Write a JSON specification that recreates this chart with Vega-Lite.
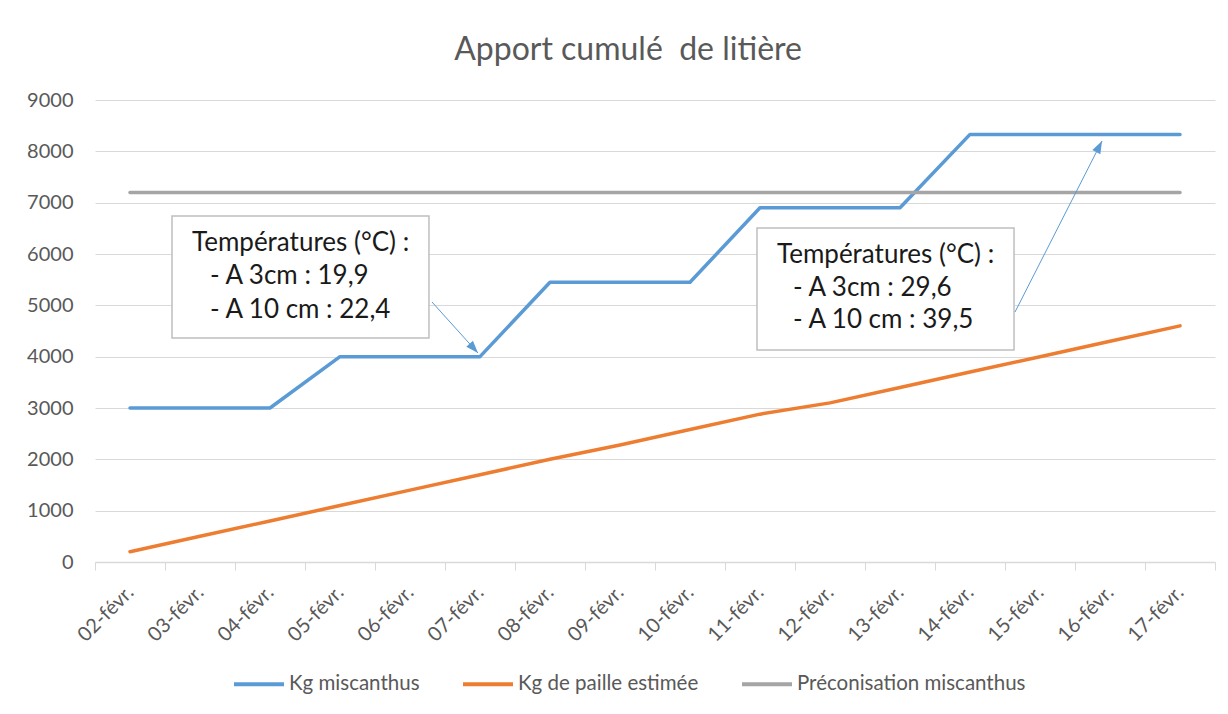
{
  "$schema": "https://vega.github.io/schema/vega-lite/v6.json",
  "autosize": "none",
  "width": 1120,
  "height": 462,
  "padding": {"left": 95, "top": 100, "right": 13, "bottom": 152},
  "background": "white",
  "title": {
    "text": "Apport cumulé \u00a0de litière",
    "anchor": "middle",
    "frame": "bounds",
    "fontSize": 32,
    "font": "Lato",
    "fontWeight": "normal",
    "color": "#595959",
    "offset": 23,
    "dx": 7
  },
  "config": {
    "font": "Lato",
    "view": {"stroke": null},
    "axis": {"labelFont": "Lato", "labelColor": "#595959", "labelFontSize": 20}
  },
  "datasets": {
    "series": [
      {"date": "02-févr.", "serie": "Kg miscanthus", "valeur": 3000},
      {"date": "03-févr.", "serie": "Kg miscanthus", "valeur": 3000},
      {"date": "04-févr.", "serie": "Kg miscanthus", "valeur": 3000},
      {"date": "05-févr.", "serie": "Kg miscanthus", "valeur": 4000},
      {"date": "06-févr.", "serie": "Kg miscanthus", "valeur": 4000},
      {"date": "07-févr.", "serie": "Kg miscanthus", "valeur": 4000},
      {"date": "08-févr.", "serie": "Kg miscanthus", "valeur": 5450},
      {"date": "09-févr.", "serie": "Kg miscanthus", "valeur": 5450},
      {"date": "10-févr.", "serie": "Kg miscanthus", "valeur": 5450},
      {"date": "11-févr.", "serie": "Kg miscanthus", "valeur": 6900},
      {"date": "12-févr.", "serie": "Kg miscanthus", "valeur": 6900},
      {"date": "13-févr.", "serie": "Kg miscanthus", "valeur": 6900},
      {"date": "14-févr.", "serie": "Kg miscanthus", "valeur": 8330},
      {"date": "15-févr.", "serie": "Kg miscanthus", "valeur": 8330},
      {"date": "16-févr.", "serie": "Kg miscanthus", "valeur": 8330},
      {"date": "17-févr.", "serie": "Kg miscanthus", "valeur": 8330},
      {"date": "02-févr.", "serie": "Kg de paille estimée", "valeur": 200},
      {"date": "03-févr.", "serie": "Kg de paille estimée", "valeur": 500},
      {"date": "04-févr.", "serie": "Kg de paille estimée", "valeur": 800},
      {"date": "05-févr.", "serie": "Kg de paille estimée", "valeur": 1100},
      {"date": "06-févr.", "serie": "Kg de paille estimée", "valeur": 1400},
      {"date": "07-févr.", "serie": "Kg de paille estimée", "valeur": 1700},
      {"date": "08-févr.", "serie": "Kg de paille estimée", "valeur": 2000},
      {"date": "09-févr.", "serie": "Kg de paille estimée", "valeur": 2280},
      {"date": "10-févr.", "serie": "Kg de paille estimée", "valeur": 2580},
      {"date": "11-févr.", "serie": "Kg de paille estimée", "valeur": 2880},
      {"date": "12-févr.", "serie": "Kg de paille estimée", "valeur": 3100},
      {"date": "13-févr.", "serie": "Kg de paille estimée", "valeur": 3400},
      {"date": "14-févr.", "serie": "Kg de paille estimée", "valeur": 3700},
      {"date": "15-févr.", "serie": "Kg de paille estimée", "valeur": 4000},
      {"date": "16-févr.", "serie": "Kg de paille estimée", "valeur": 4300},
      {"date": "17-févr.", "serie": "Kg de paille estimée", "valeur": 4600},
      {"date": "02-févr.", "serie": "Préconisation miscanthus", "valeur": 7200},
      {"date": "03-févr.", "serie": "Préconisation miscanthus", "valeur": 7200},
      {"date": "04-févr.", "serie": "Préconisation miscanthus", "valeur": 7200},
      {"date": "05-févr.", "serie": "Préconisation miscanthus", "valeur": 7200},
      {"date": "06-févr.", "serie": "Préconisation miscanthus", "valeur": 7200},
      {"date": "07-févr.", "serie": "Préconisation miscanthus", "valeur": 7200},
      {"date": "08-févr.", "serie": "Préconisation miscanthus", "valeur": 7200},
      {"date": "09-févr.", "serie": "Préconisation miscanthus", "valeur": 7200},
      {"date": "10-févr.", "serie": "Préconisation miscanthus", "valeur": 7200},
      {"date": "11-févr.", "serie": "Préconisation miscanthus", "valeur": 7200},
      {"date": "12-févr.", "serie": "Préconisation miscanthus", "valeur": 7200},
      {"date": "13-févr.", "serie": "Préconisation miscanthus", "valeur": 7200},
      {"date": "14-févr.", "serie": "Préconisation miscanthus", "valeur": 7200},
      {"date": "15-févr.", "serie": "Préconisation miscanthus", "valeur": 7200},
      {"date": "16-févr.", "serie": "Préconisation miscanthus", "valeur": 7200},
      {"date": "17-févr.", "serie": "Préconisation miscanthus", "valeur": 7200}
    ],
    "boites": [
      {"x": 2.6, "x2": 6.271, "y": 6740, "y2": 4364},
      {"x": 10.957, "x2": 14.629, "y": 6506, "y2": 4130}
    ],
    "textes": [
      {"x": 2.886, "y": 6214, "texte": "Températures (°C) :"},
      {"x": 3.143, "y": 5571, "texte": "- A 3cm : 19,9"},
      {"x": 3.143, "y": 4909, "texte": "- A 10 cm : 22,4"},
      {"x": 11.243, "y": 5980, "texte": "Températures (°C) :"},
      {"x": 11.471, "y": 5338, "texte": "- A 3cm : 29,6"},
      {"x": 11.471, "y": 4714, "texte": "- A 10 cm : 39,5"}
    ],
    "fleches": [
      {"id": 1, "x": 6.314, "y": 5065, "x2": 6.971, "y2": 4071},
      {"id": 2, "x": 14.643, "y": 4870, "x2": 15.886, "y2": 8201}
    ]
  },
  "resolve": {"scale": {"x": "independent"}},
  "layer": [
    {
      "data": {"name": "series"},
      "mark": {"type": "line", "strokeWidth": 3.5, "strokeCap": "round", "strokeJoin": "round"},
      "encoding": {
        "x": {
          "field": "date",
          "type": "nominal",
          "sort": null,
          "bandPosition": 0.5,
          "scale": {"type": "band", "paddingInner": 0, "paddingOuter": 0},
          "axis": {
            "title": null,
            "labelAngle": -45,
            "labelAlign": "right",
            "labelBaseline": "middle",
            "labelPadding": 19,
            "tickBand": "extent",
            "tickSize": 8,
            "tickColor": "#D9D9D9",
            "domainColor": "#D9D9D9",
            "domainWidth": 1.5,
            "grid": false
          }
        },
        "y": {
          "field": "valeur",
          "type": "quantitative",
          "scale": {"domain": [0, 9000], "nice": false},
          "axis": {
            "title": null,
            "format": "d",
            "values": [0, 1000, 2000, 3000, 4000, 5000, 6000, 7000, 8000, 9000],
            "domain": false,
            "ticks": false,
            "labelPadding": 22,
            "gridColor": "#D9D9D9",
            "gridWidth": 1.2
          }
        },
        "color": {
          "field": "serie",
          "type": "nominal",
          "scale": {
            "domain": ["Kg miscanthus", "Kg de paille estimée", "Préconisation miscanthus"],
            "range": ["#5B9BD5", "#ED7D31", "#A5A5A5"]
          },
          "legend": {
            "title": null,
            "orient": "none",
            "legendX": 137,
            "legendY": 557,
            "direction": "horizontal",
            "symbolType": "stroke",
            "symbolSize": 2500,
            "symbolStrokeWidth": 4,
            "labelFontSize": 20.5,
            "labelLimit": 0,
            "labelColor": "#595959",
            "labelFont": "Lato",
            "labelOffset": 3,
            "columnPadding": 35
          }
        }
      }
    },
    {
      "layer": [
        {
          "data": {"name": "boites"},
          "mark": {"type": "rect", "fill": "white", "stroke": "#BFBFBF", "strokeWidth": 1.5},
          "encoding": {
            "x": {"field": "x", "type": "quantitative", "scale": {"domain": [1.5, 17.5], "nice": false, "zero": false}, "axis": null},
            "x2": {"field": "x2"},
            "y": {"field": "y", "type": "quantitative"},
            "y2": {"field": "y2"}
          }
        },
        {
          "data": {"name": "textes"},
          "mark": {"type": "text", "align": "left", "baseline": "middle", "fontSize": 26, "font": "Lato", "color": "#1A1A1A"},
          "encoding": {
            "x": {"field": "x", "type": "quantitative", "axis": null},
            "y": {"field": "y", "type": "quantitative"},
            "text": {"field": "texte"}
          }
        },
        {
          "data": {"name": "fleches"},
          "mark": {"type": "rule", "color": "#5B9BD5", "strokeWidth": 1},
          "encoding": {
            "x": {"field": "x", "type": "quantitative", "axis": null},
            "y": {"field": "y", "type": "quantitative"},
            "x2": {"field": "x2"},
            "y2": {"field": "y2"}
          }
        },
        {
          "data": {"name": "fleches"},
          "transform": [{"filter": "datum.id == 1"}],
          "mark": {"type": "point", "shape": "M0,0L-0.45,1.25L0.45,1.25Z", "filled": true, "color": "#5B9BD5", "opacity": 1, "size": 400, "angle": 138},
          "encoding": {
            "x": {"field": "x2", "type": "quantitative", "axis": null},
            "y": {"field": "y2", "type": "quantitative"}
          }
        },
        {
          "data": {"name": "fleches"},
          "transform": [{"filter": "datum.id == 2"}],
          "mark": {"type": "point", "shape": "M0,0L-0.45,1.25L0.45,1.25Z", "filled": true, "color": "#5B9BD5", "opacity": 1, "size": 400, "angle": 27},
          "encoding": {
            "x": {"field": "x2", "type": "quantitative", "axis": null},
            "y": {"field": "y2", "type": "quantitative"}
          }
        }
      ]
    }
  ]
}
